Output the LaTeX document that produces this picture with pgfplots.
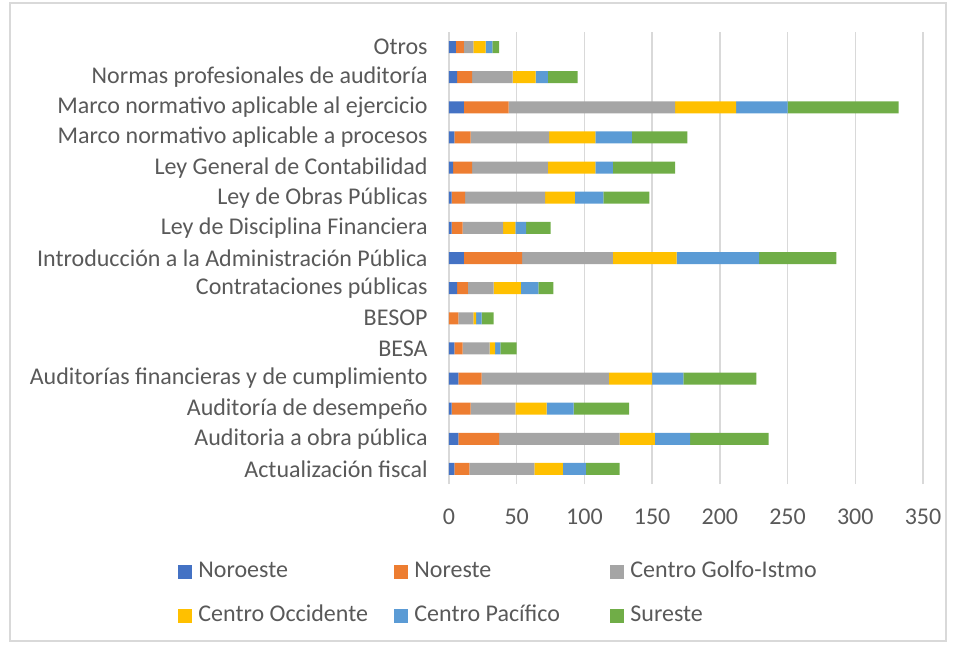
\documentclass[border=0pt]{standalone}
\usepackage{fontspec}
\setmainfont{Carlito}
\usepackage{pgfplots}
\pgfplotsset{compat=1.18}
\definecolor{cNO}{HTML}{4472C4}
\definecolor{cNE}{HTML}{ED7D31}
\definecolor{cCG}{HTML}{A5A5A5}
\definecolor{cCO}{HTML}{FFC000}
\definecolor{cCP}{HTML}{5B9BD5}
\definecolor{cSE}{HTML}{70AD47}
\definecolor{txt}{HTML}{595959}
\definecolor{gridc}{HTML}{D9D9D9}
\newcommand{\legbox}[1]{\makebox[95pt][l]{#1}}
\begin{document}
\begin{tikzpicture}[x=1pt,y=1pt]
\useasboundingbox (-224.5,-80) rectangle (253.5,242);
\draw[gridc, line width=0.75pt] (-219.5,240.5) rectangle (248.5,-78.5);
\begin{axis}[
  at={(0,0)}, anchor=south west,
  scale only axis, width=237pt, height=226pt,
  xbar stacked, bar width=6pt,
  xmin=0, xmax=350, ymin=-0.5, ymax=14.5,
  xtick={0,50,...,350}, ytick={0,...,14},
  yticklabels={Actualización fiscal, Auditoria a obra pública, Auditoría de desempeño, Auditorías financieras y de cumplimiento, BESA, BESOP, Contrataciones públicas, Introducción a la Administración Pública, Ley de Disciplina Financiera, Ley de Obras Públicas, Ley General de Contabilidad, Marco normativo aplicable a procesos, Marco normativo aplicable al ejercicio, Normas profesionales de auditoría, Otros},
  xmajorgrids, major grid style={draw=gridc, line width=0.75pt},
  axis line style={draw=none},
  major tick length=0pt,
  tick label style={font=\fontsize{12}{14}\selectfont, text=txt},
  /pgf/number format/assume math mode=true,
  xticklabel style={anchor=north, inner sep=0pt, yshift=-12.5pt},
  yticklabel style={anchor=east, inner sep=0pt, xshift=-10.5pt},
  legend columns=3,
  legend style={draw=none, fill=none, at={(-0.5717,-0.1703)}, anchor=north west, inner sep=0pt,
    font=\fontsize{12}{14}\selectfont, text=txt, /tikz/column sep=3pt, /tikz/row sep=11pt,
    nodes={inner sep=0pt, text height=8pt, text depth=3pt}},
  legend image code/.code={\fill[#1] (0pt,-3.5pt) rectangle (7pt,3.5pt);},
]
\addplot[fill=cNO, draw=none] coordinates {(4,0) (7,1) (2,2) (7,3) (4,4) (0,5) (6,6) (11,7) (2,8) (2,9) (3,10) (4,11) (11,12) (6,13) (5,14)};
\addplot[fill=cNE, draw=none] coordinates {(11,0) (30,1) (14,2) (17,3) (6,4) (7,5) (8,6) (43,7) (8,8) (10,9) (14,10) (12,11) (33,12) (11,13) (6,14)};
\addplot[fill=cCG, draw=none] coordinates {(48,0) (89,1) (33,2) (94,3) (20,4) (11,5) (19,6) (67,7) (30,8) (59,9) (56,10) (58,11) (123,12) (30,13) (7,14)};
\addplot[fill=cCO, draw=none] coordinates {(21,0) (26,1) (23,2) (32,3) (4,4) (2,5) (20,6) (47,7) (9,8) (22,9) (35,10) (34,11) (45,12) (17,13) (9,14)};
\addplot[fill=cCP, draw=none] coordinates {(17,0) (26,1) (20,2) (23,3) (4,4) (4,5) (13,6) (61,7) (8,8) (21,9) (13,10) (27,11) (38,12) (9,13) (5,14)};
\addplot[fill=cSE, draw=none] coordinates {(25,0) (58,1) (41,2) (54,3) (12,4) (9,5) (11,6) (57,7) (18,8) (34,9) (46,10) (41,11) (82,12) (22,13) (5,14)};
\legend{\legbox{Noroeste}, \legbox{Noreste}, \legbox{Centro Golfo-Istmo}, \legbox{Centro Occidente}, \legbox{Centro Pacífico}, \legbox{Sureste}}
\end{axis}
\end{tikzpicture}
\end{document}
